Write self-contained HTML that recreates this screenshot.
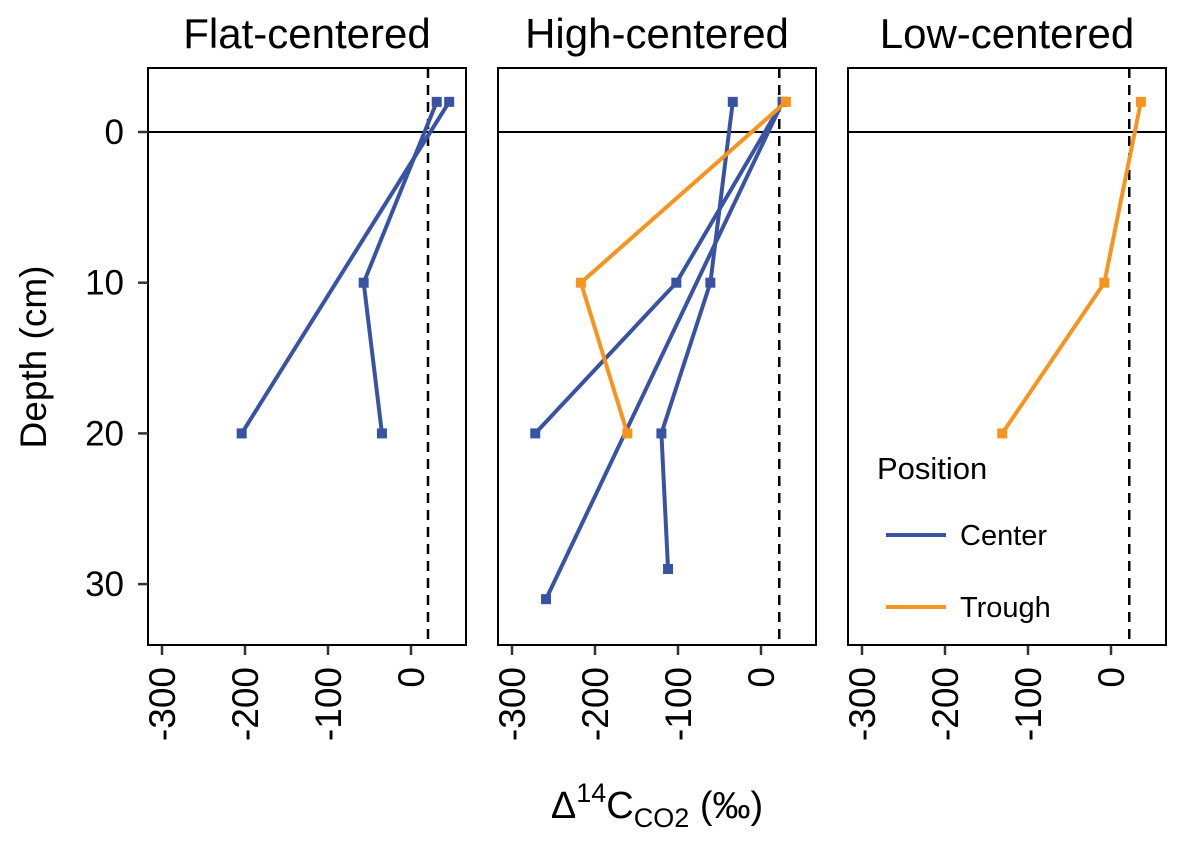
<!DOCTYPE html>
<html><head><meta charset="utf-8"><style>
body{margin:0;background:#fff}
svg{display:block;font-family:"Liberation Sans",Arial,sans-serif}
</style></head><body>
<svg id="c" width="1181" height="843"></svg>
<script>
const panelTitles=["Flat-centered","High-centered","Low-centered"];
const xTicks=[-300,-200,-100,0];
const yTicks=[0,10,20,30];
const atmValue=[20.5,22,22];
const seriesPanel=[0,0,1,1,1,1,2];
const seriesPos=["Center","Center","Center","Center","Center","Trough","Trough"];
const seriesDepth=[[-2,10,20],[-2,20],[-2,10,20,29],[-2,10,20],[-2,31],[-2,10,20],[-2,10,20]];
const seriesValue=[[31,-57,-35],[46,-204],[-34,-61,-120,-112],[26,-102,-272],[26,-259],[30,-217,-161],[36,-8,-131]];
const colors={Center:"#3953a4",Trough:"#f7941d"};

const SVGNS="http://www.w3.org/2000/svg";
const svgRoot=document.getElementById('c');
function mk(tag,attrs,parent,text){const e=document.createElementNS(SVGNS,tag);for(const k in attrs)e.setAttribute(k,attrs[k]);if(text!=null)e.textContent=text;(parent||svgRoot).appendChild(e);return e;}
const panelLeft=[148,498,848],pw=318,plotTop=68,plotBottom=645;
function xs(p,v){return panelLeft[p]+263+v*0.83;}
function ys(d){return 132+d*15.07;}

panelLeft.forEach((L,p)=>{
  const g=mk('g',{});
  
  
  const t=mk('text',{x:L+pw/2,y:48,'font-size':42,'text-anchor':'middle',fill:'#000'},g,panelTitles[p]);
  
  
  const zl=mk('line',{x1:L,x2:L+pw,y1:ys(0),y2:ys(0),stroke:'#000','stroke-width':2},g);
  
  
  const dl=mk('line',{x1:xs(p,atmValue[p]),x2:xs(p,atmValue[p]),y1:plotTop,y2:plotBottom,stroke:'#000','stroke-width':2.5,'stroke-dasharray':'10,7'},g);
  
  
  xTicks.forEach(v=>{
    const x=xs(p,v);
    mk('line',{x1:x,x2:x,y1:plotBottom,y2:plotBottom+10,stroke:'#333','stroke-width':2.5},g);
    const tl=mk('text',{x:0,y:0,'font-size':37,'text-anchor':'end',fill:'#000',transform:`translate(${x+13},${plotBottom+22}) rotate(-90)`},g,v);
    
    
  });
  seriesPanel.forEach((sp,i)=>{
    if(sp!==p)return;
    const c=colors[seriesPos[i]];
    const pts=seriesDepth[i].map((d,j)=>[xs(p,seriesValue[i][j]),ys(d)]);
    const pl=mk('polyline',{points:pts.map(q=>q.join(',')).join(' '),fill:'none',stroke:c,'stroke-width':4},g);
    
    
    pts.forEach(q=>{
      const r=mk('rect',{x:q[0]-5,y:q[1]-5,width:10,height:10,fill:c},g);
      
      
    });
  });
  const fr=mk('rect',{x:L,y:plotTop,width:pw,height:plotBottom-plotTop,fill:'none',stroke:'#000','stroke-width':2},g);
  
  
});
yTicks.forEach(d=>{
  const y=ys(d);
  mk('line',{x1:138,x2:148,y1:y,y2:y,stroke:'#333','stroke-width':2.5});
  const t=mk('text',{x:124,y:y+12,'font-size':35,'text-anchor':'end',fill:'#000'},null,d);
  
  
});
const yt=mk('text',{x:0,y:0,'font-size':37,'text-anchor':'middle',transform:'translate(46,357) rotate(-90)'},null,'Depth (cm)');


const xt=mk('text',{x:657,y:818,'font-size':38,'text-anchor':'middle'});


mk('tspan',{},xt,'Δ');
mk('tspan',{'font-size':27,dy:-16},xt,'14');
mk('tspan',{dy:16},xt,'C');
mk('tspan',{'font-size':27,dy:9},xt,'CO2');
mk('tspan',{dy:-9},xt,' (‰)');
const lg=mk('g',{});


mk('text',{x:877,y:479,'font-size':31},lg,'Position');
[["Center",535],["Trough",607]].forEach(([n,y])=>{
  const e=mk('g',{},lg);
  
  
  mk('line',{x1:886,x2:946,y1:y,y2:y,stroke:colors[n],'stroke-width':4},e);
  mk('circle',{cx:916,cy:y,r:2,fill:colors[n]},e);
  mk('text',{x:960,y:y+10,'font-size':29},e,n);
});
</script>
</body></html>
